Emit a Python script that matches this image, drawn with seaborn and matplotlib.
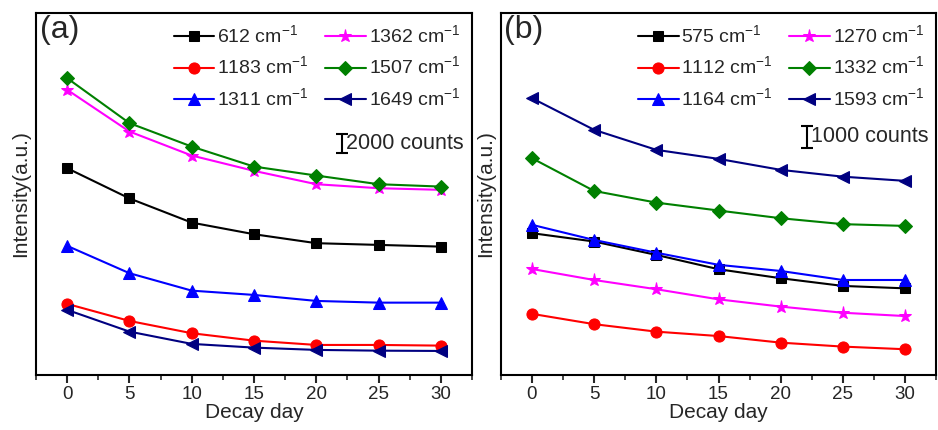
import numpy as np
import pandas as pd
import matplotlib
matplotlib.use("Agg")
import matplotlib.pyplot as plt
import seaborn as sns
from matplotlib.ticker import MultipleLocator

# decay days (x)
days = [0, 5, 10, 15, 20, 25, 30]

# panel (a) intensities (counts)
a_labels = ["612", "1183", "1311", "1362", "1507", "1649"]
a_612 = [21700, 18530, 15990, 14770, 13830, 13650, 13470]
a_1183 = [7460, 5670, 4380, 3600, 3150, 3150, 3080]
a_1311 = [13550, 10680, 8850, 8400, 7770, 7590, 7590]
a_1362 = [29930, 25550, 23030, 21420, 20020, 19600, 19430]
a_1507 = [31150, 26430, 23970, 21870, 20930, 20020, 19770]
a_1649 = [6830, 4550, 3260, 2870, 2630, 2550, 2520]

# panel (b) intensities
b_labels = ["575", "1112", "1164", "1270", "1332", "1593"]
b_575 = [6450, 6070, 5460, 4810, 4400, 4050, 3940]
b_1112 = [2780, 2310, 1970, 1770, 1470, 1290, 1170]
b_1164 = [6830, 6140, 5560, 5010, 4730, 4320, 4320]
b_1270 = [4820, 4320, 3900, 3440, 3110, 2830, 2680]
b_1332 = [9860, 8370, 7840, 7480, 7130, 6860, 6780]
b_1593 = [12590, 11150, 10240, 9830, 9330, 9020, 8830]

colors = ["black", "#ff0000", "#0000ff", "#ff00ff", "#008000", "#000080"]
markers = ["s", "o", "^", "*", "D", "<"]
msizes = [7, 8, 8, 9.5, 7.5, 8]

sns.set_style("ticks")
plt.rcParams['font.family'] = ['Liberation Sans', 'DejaVu Sans']
plt.rcParams['mathtext.fontset'] = 'custom'
plt.rcParams['mathtext.rm'] = 'Liberation Sans'

fig = plt.figure(figsize=(9.38, 4.3), dpi=100)
ax_a = fig.add_axes([0.0384, 0.128, 0.4648, 0.842])
ax_b = fig.add_axes([0.534, 0.128, 0.464, 0.842])


def draw_panel(ax, labels, series, ymax, tag, bar_y, bar_half, bar_text):
    for lab, vals, c, m, ms in zip(labels, series, colors, markers, msizes):
        df = pd.DataFrame({"day": days, "I": vals})
        sns.lineplot(data=df, x="day", y="I", ax=ax, color=c, marker=m,
                     markersize=ms, markeredgecolor=c, linewidth=1.5,
                     label=lab + r" cm$^{\mathrm{-1}}$")
    ax.set_xlim(-2.5, 32.5)
    ax.set_ylim(0, ymax)
    ax.set_xticks(days)
    ax.xaxis.set_minor_locator(MultipleLocator(2.5))
    ax.set_yticks([])
    ax.tick_params(axis="x", which="major", direction="out", length=6, width=1.5,
                   labelsize=13.5, pad=2)
    ax.tick_params(axis="x", which="minor", direction="out", length=3.5, width=1.2)
    for s in ax.spines.values():
        s.set_linewidth(1.5)
        s.set_color("black")
    ax.set_xlabel("Decay day", fontsize=15, labelpad=0)
    ax.set_ylabel("Intensity(a.u.)", fontsize=15, labelpad=4)
    ax.text(0.008, 0.995, tag, transform=ax.transAxes, fontsize=23,
            va="top", ha="left")
    # scale bar
    ax.errorbar([22.1], [bar_y], yerr=[bar_half], fmt="none", ecolor="black",
                elinewidth=1.5, capsize=4, capthick=1.5)
    ax.text(22.4, bar_y, bar_text, fontsize=15.5, va="center", ha="left")
    ax.legend(ncol=2, loc="upper right", bbox_to_anchor=(1.0, 1.0),
              frameon=False, fontsize=14, handlelength=2.1,
              handletextpad=0.15, columnspacing=0.8, labelspacing=0.45,
              borderaxespad=0.2)


draw_panel(ax_a, a_labels, [a_612, a_1183, a_1311, a_1362, a_1507, a_1649],
           38000, "(a)", 24250, 1000, "2000 counts")
draw_panel(ax_b, b_labels, [b_575, b_1112, b_1164, b_1270, b_1332, b_1593],
           16470, "(b)", 10830, 500, "1000 counts")

fig.savefig("out.png", dpi=100)
